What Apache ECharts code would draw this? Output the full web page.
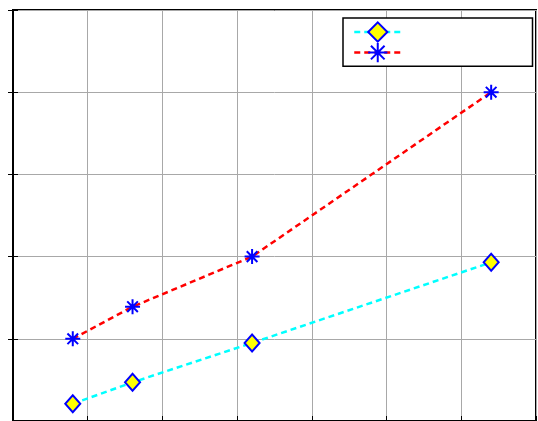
<!DOCTYPE html>
<html>
<head>
<meta charset="utf-8">
<script src="https://cdn.jsdelivr.net/npm/echarts@6/dist/echarts.min.js"></script>
<style>
  html, body { margin: 0; padding: 0; background: #fff; }
  #main { width: 538px; height: 421px; }
</style>
</head>
<body>
<div id="main"></div>
<script>
// x values and the two curves
var xValues = [4, 8, 16, 32];
var cyanValues = [0.21, 0.47, 0.95, 1.93];
var redValues = [1.0, 1.39, 2.0, 4.0];

var xTicks = [0, 35, 5];   // min, max, interval
var yTicks = [0, 5, 1];

function pairs(xs, ys) {
    return xs.map(function (x, i) { return [x, ys[i]]; });
}

var asterisk = 'path://M10,0L10,20M0,10L20,10M2.9,2.9L17.1,17.1M2.9,17.1L17.1,2.9';

var chart = echarts.init(document.getElementById('main'));

var tickStyle = { show: true, inside: true, length: 5, lineStyle: { color: '#000', width: 1 } };

var option = {
    animation: false,
    grid: {
        left: 13, right: 2, top: 10, bottom: -2,
        show: true,
        borderColor: '#000',
        borderWidth: 2,
        backgroundColor: '#fff'
    },
    legend: {
        left: 343, top: 18,
        orient: 'vertical',
        itemWidth: 47,
        itemHeight: 24,
        itemGap: -2,
        padding: [2, 130, 3, 10],
        borderColor: '#000',
        borderWidth: 1.5,
        backgroundColor: '#fff',
        lineStyle: { width: 2.5 },
        itemStyle: { borderWidth: 2 },
        formatter: function () { return ''; },
        data: ['cyan', 'red']
    },
    xAxis: [
        {
            type: 'value',
            min: xTicks[0], max: xTicks[1], interval: xTicks[2],
            axisLine: { show: true, lineStyle: { color: '#000', width: 2 } },
            axisTick: tickStyle,
            axisLabel: { show: false },
            splitLine: { show: true, lineStyle: { color: '#a8a8a8', width: 1 } }
        },
        {
            type: 'value', position: 'top',
            min: xTicks[0], max: xTicks[1], interval: xTicks[2],
            axisLine: { show: false },
            axisTick: tickStyle,
            axisLabel: { show: false },
            splitLine: { show: false }
        }
    ],
    yAxis: [
        {
            type: 'value',
            min: yTicks[0], max: yTicks[1], interval: yTicks[2],
            axisLine: { show: true, lineStyle: { color: '#000', width: 2 } },
            axisTick: tickStyle,
            axisLabel: { show: false },
            splitLine: { show: true, lineStyle: { color: '#a8a8a8', width: 1 } }
        },
        {
            type: 'value', position: 'right',
            min: yTicks[0], max: yTicks[1], interval: yTicks[2],
            axisLine: { show: false },
            axisTick: tickStyle,
            axisLabel: { show: false },
            splitLine: { show: false }
        }
    ],
    series: [
        {
            name: 'cyan',
            type: 'line',
            data: pairs(xValues, cyanValues),
            symbol: 'diamond',
            symbolSize: [15, 17],
            lineStyle: { color: '#00ffff', width: 2.5, type: [6, 4] },
            itemStyle: { color: '#ffff00', borderColor: '#0000ff', borderWidth: 2 },
            z: 3
        },
        {
            name: 'red',
            type: 'line',
            data: pairs(xValues, redValues),
            symbol: asterisk,
            symbolSize: 15,
            lineStyle: { color: '#ff0000', width: 2.5, type: [6, 4] },
            itemStyle: { color: '#0000ff', borderColor: '#0000ff', borderWidth: 2 },
            z: 3
        }
    ]
};

chart.setOption(option);
</script>
</body>
</html>
